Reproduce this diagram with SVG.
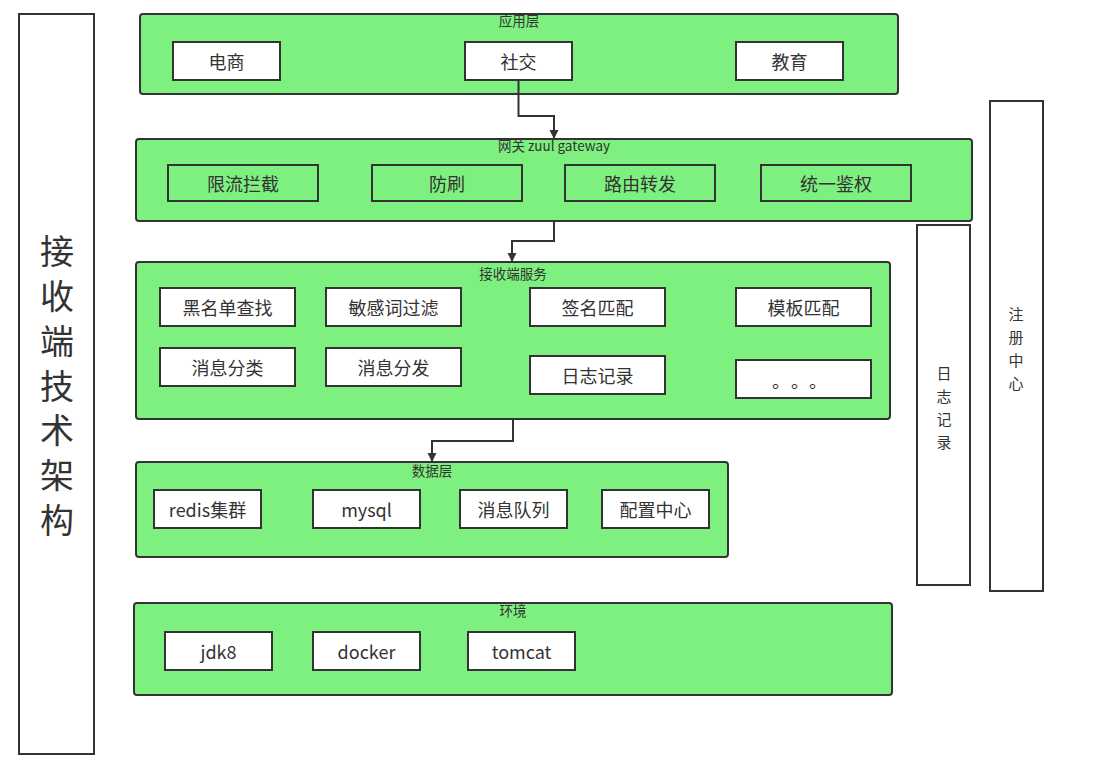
<svg xmlns="http://www.w3.org/2000/svg" width="1101" height="777" viewBox="0 0 1101 777">
<defs>
<style>
.layer{fill:#7df07f;stroke:#333;stroke-width:2}
.wn{fill:#fff;stroke:#333;stroke-width:2}
.gn{fill:#7df07f;stroke:#333;stroke-width:2}
.side{fill:#fff;stroke:#333;stroke-width:2}
text{font-family:"Noto Sans CJK SC","Liberation Sans",sans-serif;fill:#333}
.t{font-size:18px;text-anchor:middle;dominant-baseline:central}
.lbl{font-size:13.5px;text-anchor:middle;dominant-baseline:central}
.big{font-size:34px;text-anchor:middle;writing-mode:vertical-rl;letter-spacing:10.7px}
.v{font-size:15px;text-anchor:middle;dominant-baseline:central}
.c{fill:none;stroke:#333;stroke-width:2}
</style>
<marker id="arr" viewBox="0 0 10 10" refX="10" refY="5" markerWidth="9" markerHeight="10" markerUnits="userSpaceOnUse" orient="auto">
<path d="M0,0 L10,5 L0,10 z" fill="#333"/>
</marker>
</defs>
<rect width="1101" height="777" fill="#fff"/>

<g id="arch">
<rect class="side" x="19" y="14" width="75" height="740"/>
<text class="big" x="57" y="391">接收端技术架构</text>
</g>

<g id="app-layer">
<rect class="layer" x="140" y="14" width="758" height="80" rx="3"/>
<text class="lbl" x="519" y="20">应用层</text>
</g>
<g id="n-dianshang"><rect class="wn" x="173" y="42" width="107" height="38"/><text class="t" x="226.5" y="61">电商</text></g>
<g id="n-shejiao"><rect class="wn" x="465" y="42" width="107" height="38"/><text class="t" x="518.5" y="61">社交</text></g>
<g id="n-jiaoyu"><rect class="wn" x="736" y="42" width="107" height="38"/><text class="t" x="789.5" y="61">教育</text></g>

<g id="gateway">
<rect class="layer" x="136" y="139" width="836" height="82" rx="3"/>
<text class="lbl" x="554" y="145">网关 zuul gateway</text>
</g>
<g id="n-xianliu"><rect class="gn" x="168" y="165" width="150" height="36"/><text class="t" x="243" y="183">限流拦截</text></g>
<g id="n-fangshua"><rect class="gn" x="372" y="165" width="150" height="36"/><text class="t" x="447" y="183">防刷</text></g>
<g id="n-luyou"><rect class="gn" x="565" y="165" width="150" height="36"/><text class="t" x="640" y="183">路由转发</text></g>
<g id="n-jianquan"><rect class="gn" x="761" y="165" width="150" height="36"/><text class="t" x="836" y="183">统一鉴权</text></g>

<g id="receiver">
<rect class="layer" x="136" y="262" width="754" height="157" rx="3"/>
<text class="lbl" x="513" y="273">接收端服务</text>
</g>
<g id="n-heimingdan"><rect class="wn" x="160" y="288" width="135" height="38"/><text class="t" x="227.5" y="307">黑名单查找</text></g>
<g id="n-minganci"><rect class="wn" x="326" y="288" width="135" height="38"/><text class="t" x="393.5" y="307">敏感词过滤</text></g>
<g id="n-qianming"><rect class="wn" x="530" y="288" width="135" height="38"/><text class="t" x="597.5" y="307">签名匹配</text></g>
<g id="n-moban"><rect class="wn" x="736" y="288" width="135" height="38"/><text class="t" x="803.5" y="307">模板匹配</text></g>
<g id="n-fenlei"><rect class="wn" x="160" y="348" width="135" height="38"/><text class="t" x="227.5" y="367">消息分类</text></g>
<g id="n-fenfa"><rect class="wn" x="326" y="348" width="135" height="38"/><text class="t" x="393.5" y="367">消息分发</text></g>
<g id="n-rizhi"><rect class="wn" x="530" y="356" width="135" height="38"/><text class="t" x="597.5" y="375">日志记录</text></g>
<g id="n-more"><rect class="wn" x="736" y="360" width="135" height="38"/><text x="772 791 809" y="380" style="font-size:18px;dominant-baseline:central">。。。</text></g>

<g id="data-layer">
<rect class="layer" x="136" y="462" width="592" height="95" rx="3"/>
<text class="lbl" x="432" y="470">数据层</text>
</g>
<g id="n-redis"><rect class="wn" x="154" y="490" width="107" height="38"/><text class="t" x="207.5" y="509">redis集群</text></g>
<g id="n-mysql"><rect class="wn" x="313" y="490" width="107" height="38"/><text class="t" x="366.5" y="509">mysql</text></g>
<g id="n-mq"><rect class="wn" x="460" y="490" width="107" height="38"/><text class="t" x="513.5" y="509">消息队列</text></g>
<g id="n-config"><rect class="wn" x="602" y="490" width="107" height="38"/><text class="t" x="655.5" y="509">配置中心</text></g>

<g id="env">
<rect class="layer" x="134" y="603" width="758" height="92" rx="3"/>
<text class="lbl" x="513" y="610">环境</text>
</g>
<g id="n-jdk8"><rect class="wn" x="165" y="632" width="107" height="38"/><text class="t" x="218.5" y="651">jdk8</text></g>
<g id="n-docker"><rect class="wn" x="313" y="632" width="107" height="38"/><text class="t" x="366.5" y="651">docker</text></g>
<g id="n-tomcat"><rect class="wn" x="468" y="632" width="107" height="38"/><text class="t" x="521.5" y="651">tomcat</text></g>

<g id="log-side">
<rect class="side" x="917" y="225" width="53" height="360"/>
<text class="v" x="944" y="372">日</text>
<text class="v" x="944" y="395">志</text>
<text class="v" x="944" y="418">记</text>
<text class="v" x="944" y="441">录</text>
</g>

<g id="registry">
<rect class="side" x="990" y="101" width="53" height="490"/>
<text class="v" x="1016" y="313">注</text>
<text class="v" x="1016" y="336">册</text>
<text class="v" x="1016" y="359">中</text>
<text class="v" x="1016" y="382">心</text>
</g>

<g id="connectors">
<path class="c" d="M518.5,80 V116 H554 V139" marker-end="url(#arr)"/>
<path class="c" d="M554,221 V241 H512 V262" marker-end="url(#arr)"/>
<path class="c" d="M513,419 V441 H432 V462" marker-end="url(#arr)"/>
</g>
</svg>
